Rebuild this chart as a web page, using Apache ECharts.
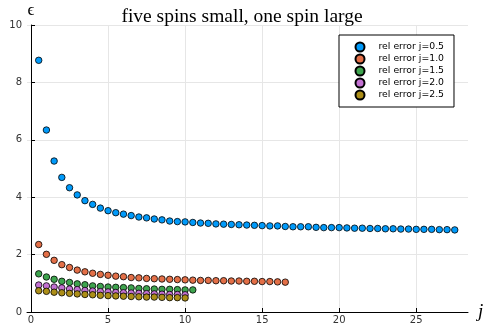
<!DOCTYPE html>
<html><head><meta charset="utf-8">
<script src="https://cdn.jsdelivr.net/npm/echarts@6/dist/echarts.min.js"></script>
<style>html,body{margin:0;padding:0;background:#fff}#c{width:489px;height:325px}</style>
</head><body><div id="c"></div>
<script>
const xTicks = [0, 5, 10, 15, 20, 25];
const seriesNames = ['rel error j=0.5','rel error j=1.0','rel error j=1.5','rel error j=2.0','rel error j=2.5'];
const colors = ['#009AFA','#E36F47','#3EA44E','#C371D2','#AC8E18'];
const xJ05 = [0.5,1,1.5,2,2.5,3,3.5,4,4.5,5,5.5,6,6.5,7,7.5,8,8.5,9,9.5,10,10.5,11,11.5,12,12.5,13,13.5,14,14.5,15,15.5,16,16.5,17,17.5,18,18.5,19,19.5,20,20.5,21,21.5,22,22.5,23,23.5,24,24.5,25,25.5,26,26.5,27,27.5];
const yJ05 = [8.77,6.34,5.26,4.69,4.33,4.08,3.88,3.75,3.62,3.53,3.46,3.41,3.36,3.31,3.28,3.24,3.21,3.17,3.15,3.14,3.12,3.10,3.09,3.07,3.06,3.05,3.04,3.03,3.02,3.01,3.00,3.00,2.98,2.97,2.97,2.97,2.95,2.94,2.94,2.94,2.93,2.92,2.92,2.91,2.91,2.90,2.90,2.89,2.89,2.88,2.88,2.88,2.87,2.87,2.86];
const xJ10 = [0.5,1,1.5,2,2.5,3,3.5,4,4.5,5,5.5,6,6.5,7,7.5,8,8.5,9,9.5,10,10.5,11,11.5,12,12.5,13,13.5,14,14.5,15,15.5,16,16.5];
const yJ10 = [2.35,2.01,1.80,1.65,1.55,1.46,1.40,1.35,1.31,1.28,1.25,1.23,1.20,1.19,1.17,1.16,1.15,1.14,1.13,1.12,1.11,1.10,1.10,1.09,1.09,1.08,1.08,1.07,1.07,1.06,1.06,1.05,1.04];
const xJ15 = [0.5,1,1.5,2,2.5,3,3.5,4,4.5,5,5.5,6,6.5,7,7.5,8,8.5,9,9.5,10,10.5];
const yJ15 = [1.33,1.22,1.14,1.07,1.03,0.98,0.95,0.91,0.89,0.87,0.86,0.85,0.84,0.82,0.81,0.80,0.79,0.79,0.78,0.77,0.77];
const xJ20 = [0.5,1,1.5,2,2.5,3,3.5,4,4.5,5,5.5,6,6.5,7,7.5,8,8.5,9,9.5,10];
const yJ20 = [0.94,0.91,0.87,0.84,0.80,0.78,0.75,0.73,0.71,0.70,0.68,0.67,0.66,0.65,0.64,0.63,0.62,0.61,0.61,0.60];
const xJ25 = [0.5,1,1.5,2,2.5,3,3.5,4,4.5,5,5.5,6,6.5,7,7.5,8,8.5,9,9.5,10];
const yJ25 = [0.74,0.72,0.69,0.67,0.65,0.63,0.61,0.60,0.58,0.57,0.56,0.55,0.54,0.53,0.52,0.52,0.51,0.50,0.50,0.49];

const xs = [xJ05, xJ10, xJ15, xJ20, xJ25];
const ys = [yJ05, yJ10, yJ15, yJ20, yJ25];

const chart = echarts.init(document.getElementById('c'), null, {renderer: 'canvas'});
const series = seriesNames.map((n, i) => ({
  name: n, type: 'scatter', symbol: 'circle', symbolSize: 6.5,
  itemStyle: {color: colors[i], borderColor: '#000', borderWidth: 0.8, opacity: 1},
  emphasis: {disabled: true},
  data: xs[i].map((x, k) => [x, ys[i][k]])
}));
chart.setOption({
  animation: false,
  title: {text: 'five spins small, one spin large', left: 237, top: 2, textAlign: 'center',
    textStyle: {fontFamily: 'Liberation Serif', fontWeight: 'normal', fontSize: 19.5, color: '#000'}},
  legend: {orient: 'vertical', left: 339, top: 35, padding: [6, 10, 6, 15.5], itemGap: 0,
    itemWidth: 9, itemHeight: 9, icon: 'circle',
    backgroundColor: '#fff', borderColor: '#000', borderWidth: 1, borderRadius: 0,
    textStyle: {fontFamily: 'DejaVu Sans', fontSize: 9.3, lineHeight: 12, color: '#000', padding: [0, 0, 0, 9]},
    data: seriesNames},
  grid: {left: 27, right: 21, top: 25, bottom: 13, containLabel: false, outerBoundsMode: 'none'},
  xAxis: {type: 'value', min: -0.26, max: 28.36,
    name: 'j', nameLocation: 'end', nameGap: 10,
    nameTextStyle: {fontFamily: 'Liberation Serif', fontStyle: 'italic', fontSize: 19, color: '#000', verticalAlign: 'middle'},
    axisLine: {show: true, onZero: false, lineStyle: {color: '#000', width: 1}},
    axisTick: {show: true, inside: true, length: 4, lineStyle: {color: '#000'}, customValues: xTicks},
    axisLabel: {customValues: xTicks, fontFamily: 'DejaVu Sans', fontSize: 10, color: '#333', margin: 3},
    splitLine: {show: true, lineStyle: {color: '#e6e6e6', width: 1}}},
  yAxis: {type: 'value', min: 0, max: 10, interval: 2,
    name: 'ϵ', nameLocation: 'end', nameGap: 6,
    nameTextStyle: {fontFamily: 'Liberation Serif', fontSize: 17, color: '#000', align: 'center'},
    axisLine: {show: true, lineStyle: {color: '#000', width: 1}},
    axisTick: {show: true, inside: true, length: 4, lineStyle: {color: '#000'}},
    axisLabel: {fontFamily: 'DejaVu Sans', fontSize: 10, color: '#333', margin: 5},
    splitLine: {show: true, lineStyle: {color: '#e6e6e6', width: 1}}},
  series: series
});
</script></body></html>
